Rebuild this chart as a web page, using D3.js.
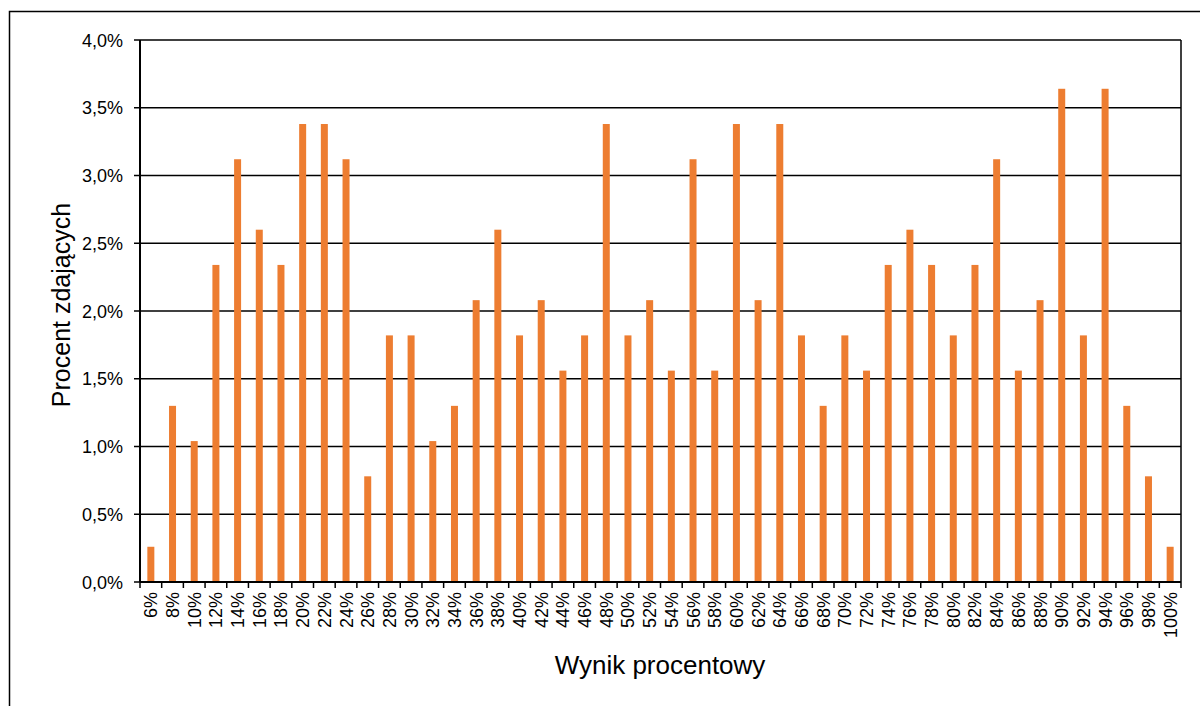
<!DOCTYPE html>
<html>
<head>
<meta charset="utf-8">
<script src="https://cdn.jsdelivr.net/npm/d3@7"></script>
<style>
  body { margin: 0; background: #fff; }
  text { font-family: "Liberation Sans", Arial, sans-serif; fill: #000; }
</style>
</head>
<body>
<svg id="chart" width="1200" height="706"></svg>
<script>
// Wynik procentowy -> procent zdajacych
var categories = ["6%","8%","10%","12%","14%","16%","18%","20%","22%","24%",
  "26%","28%","30%","32%","34%","36%","38%","40%","42%","44%",
  "46%","48%","50%","52%","54%","56%","58%","60%","62%","64%",
  "66%","68%","70%","72%","74%","76%","78%","80%","82%","84%",
  "86%","88%","90%","92%","94%","96%","98%","100%"]
var values = [0.26,1.30,1.04,2.34,3.12,2.60,2.34,3.38,3.38,3.12,
  0.78,1.82,1.82,1.04,1.30,2.08,2.60,1.82,2.08,1.56,
  1.82,3.38,1.82,2.08,1.56,3.12,1.56,3.38,2.08,3.38,
  1.82,1.30,1.82,1.56,2.34,2.60,2.34,1.82,2.34,3.12,
  1.56,2.08,3.64,1.82,3.64,1.30,0.78,0.26]
var yTicks = [0, 0.5, 1.0, 1.5, 2.0, 2.5, 3.0, 3.5, 4.0]

var svg = d3.select("#chart")
var plotL = 140, plotR = 1181, plotT = 40, plotB = 582

// outer frame (runs off the right and bottom edge)
svg.append("path")
  .attr("d", "M9.5,706 V11.5 H1200")
  .attr("fill", "none").attr("stroke", "#000").attr("stroke-width", 1.5)

var x = d3.scaleBand().domain(categories).range([plotL, plotR])
var y = d3.scaleLinear().domain([0, 4]).range([plotB, plotT])

// grid lines + y ticks
var yAxis = svg.append("g")
yAxis.selectAll("line")
  .data(yTicks)
  .enter().append("line")
  .attr("x1", plotL - 6).attr("x2", plotR)
  .attr("y1", d => y(d)).attr("y2", d => y(d))
  .attr("stroke", "#000").attr("stroke-width", 1.5)
yAxis.selectAll("text")
  .data(yTicks)
  .enter().append("text")
  .attr("x", plotL - 17).attr("y", d => y(d) + 6.5)
  .attr("text-anchor", "end")
  .attr("font-size", 18)
  .text(d => d.toFixed(1).replace(".", ",") + "%")

// bars
svg.append("g").selectAll("rect")
  .data(values)
  .enter().append("rect")
  .attr("x", (d, i) => x(categories[i]) + x.bandwidth() / 2 - 3.5)
  .attr("width", 7)
  .attr("y", d => y(d))
  .attr("height", d => plotB - y(d))
  .attr("fill", "#ED7D31")

// plot frame
svg.append("line").attr("x1", plotL).attr("x2", plotL).attr("y1", plotT).attr("y2", plotB)
  .attr("stroke", "#000").attr("stroke-width", 2)
svg.append("line").attr("x1", plotR).attr("x2", plotR).attr("y1", plotT).attr("y2", plotB)
  .attr("stroke", "#000").attr("stroke-width", 1.5)
svg.append("line").attr("x1", plotL).attr("x2", plotR).attr("y1", plotB).attr("y2", plotB)
  .attr("stroke", "#000").attr("stroke-width", 2)

// x ticks between categories
var xb = categories.map(c => x(c)).concat([plotR])
svg.append("g").selectAll("line")
  .data(xb)
  .enter().append("line")
  .attr("x1", d => d).attr("x2", d => d)
  .attr("y1", plotB).attr("y2", plotB + 6)
  .attr("stroke", "#000").attr("stroke-width", 1.5)

// x labels, rotated
svg.append("g").selectAll("text")
  .data(categories)
  .enter().append("text")
  .attr("transform", d => "translate(" + (x(d) + x.bandwidth() / 2 + 6.5) + "," + (plotB + 10) + ") rotate(-90)")
  .attr("text-anchor", "end")
  .attr("font-size", 18)
  .text(d => d)

// axis titles
svg.append("text")
  .attr("x", 660).attr("y", 674)
  .attr("text-anchor", "middle")
  .attr("font-size", 26)
  .text("Wynik procentowy")
svg.append("text")
  .attr("transform", "translate(70,305) rotate(-90)")
  .attr("text-anchor", "middle")
  .attr("font-size", 25)
  .text("Procent zdających")
</script>
</body>
</html>
